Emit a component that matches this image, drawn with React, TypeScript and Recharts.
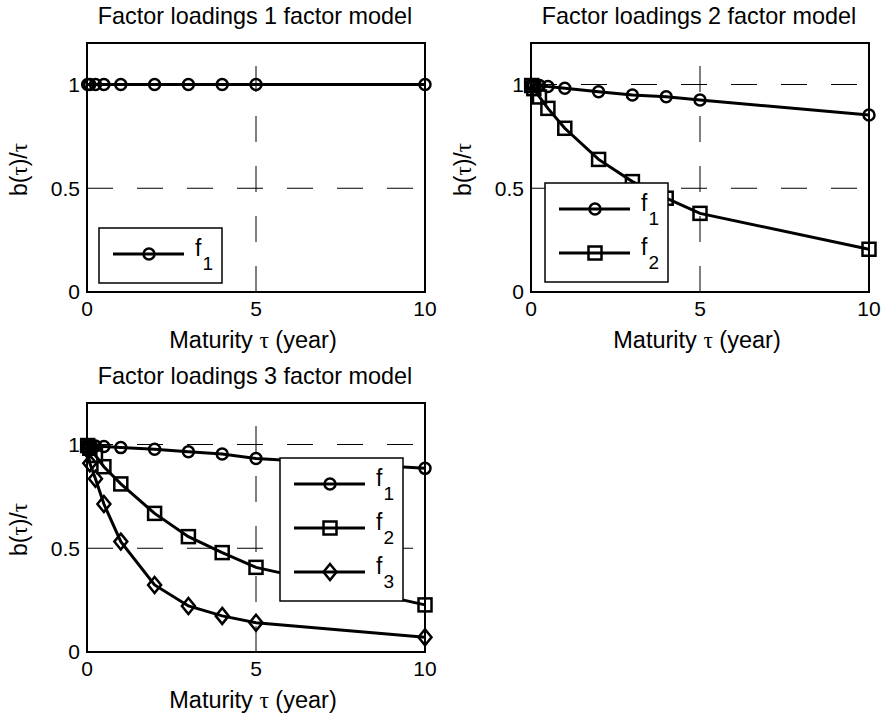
import { LineChart, Line, XAxis, YAxis, ReferenceLine, ReferenceArea } from 'recharts'

// maturities in years (dense near zero)
const maturity = [0.02, 0.083, 0.25, 0.5, 1, 2, 3, 4, 5, 10]

const oneFactorF1 = [1, 1, 1, 1, 1, 1, 1, 1, 1, 1]

const twoFactorF1 = [0.999, 0.998, 0.995, 0.99, 0.982, 0.965, 0.949, 0.941, 0.925, 0.853]
const twoFactorF2 = [0.995, 0.98, 0.94, 0.885, 0.789, 0.639, 0.532, 0.452, 0.379, 0.206]

const threeFactorF1 = [0.999, 0.997, 0.993, 0.99, 0.985, 0.977, 0.965, 0.954, 0.933, 0.885]
const threeFactorF2 = [0.995, 0.982, 0.947, 0.893, 0.81, 0.668, 0.556, 0.479, 0.408, 0.227]
const threeFactorF3 = [0.975, 0.91, 0.835, 0.713, 0.532, 0.323, 0.222, 0.174, 0.141, 0.071]

const xTicks = [0, 5, 10]
const yTicks = [0, 0.5, 1]
const gridY = [0.5, 1]
const gridX = [5]

const FONT = '"Liberation Sans", Arial, Helvetica, sans-serif'
const GREEK = '"Liberation Serif", "DejaVu Serif", serif'

const PW = 443
const PH = 360
// plot box inside each panel
const PL = 87
const PR = 425
const PT = 43
const PB = 292

type Shape = 'circle' | 'square' | 'diamond'
interface Series { key: string; label: string; sub: string; values: number[]; shape: Shape }

function Marker({ shape, cx, cy }: { shape: Shape; cx: number; cy: number }) {
  const common = { fill: 'none', stroke: '#000', strokeWidth: 2.5 }
  if (shape === 'square') return <rect x={cx - 6.5} y={cy - 6.5} width={13} height={13} {...common} />
  if (shape === 'diamond') {
    return <polygon points={`${cx},${cy - 8} ${cx + 6.5},${cy} ${cx},${cy + 8} ${cx - 6.5},${cy}`} {...common} />
  }
  return <circle cx={cx} cy={cy} r={5.5} {...common} />
}

function Panel({ left, top, title, series, legendX, legendY }: {
  left: number; top: number; title: string; series: Series[]; legendX: number; legendY: number
}) {
  const data = maturity.map((t, i) => {
    const row: Record<string, number> = { t }
    series.forEach(s => { row[s.key] = s.values[i] })
    return row
  })
  const tickStyle = { fontSize: 21, fill: '#000', fontFamily: FONT }
  const cx = (PL + PR) / 2
  const legendH = series.length * 44 + 11

  return (
    <div style={{ position: 'absolute', left, top, width: PW, height: PH }}>
      <LineChart width={PW} height={PH} data={data} margin={{ top: PT, right: PW - PR, bottom: PH - PB - 30, left: PL - 40 }}>
        <XAxis type="number" dataKey="t" domain={[0, 10]} ticks={xTicks} interval={0} height={30}
          axisLine={false} tickLine={false} tickSize={0} tickMargin={9} tick={tickStyle} />
        <YAxis type="number" domain={[0, 1.2]} ticks={yTicks} interval={0} width={40}
          axisLine={false} tickLine={false} tickSize={0} tickMargin={7} tick={tickStyle} />
        {gridY.map(v => (
          <ReferenceLine key={'y' + v} y={v} stroke="#000" strokeWidth={1} strokeDasharray="26 24" />
        ))}
        {gridX.map(v => (
          <ReferenceLine key={'x' + v} x={v} stroke="#000" strokeWidth={1} strokeDasharray="26 24" />
        ))}
        <ReferenceArea x1={0} x2={10} y1={0} y2={1.2} fill="none" fillOpacity={0} stroke="#000" strokeWidth={2} />
        {series.map(s => (
          <Line key={s.key} type="linear" dataKey={s.key} stroke="#000" strokeWidth={3}
            dot={(p: any) => <Marker key={s.key + p.index} shape={s.shape} cx={p.cx} cy={p.cy} />}
            activeDot={false} isAnimationActive={false} />
        ))}
      </LineChart>
      <svg width={PW} height={PH} style={{ position: 'absolute', left: 0, top: 0, pointerEvents: 'none' }}
        fontFamily={FONT}>
        <text x={cx - 1} y={23.5} textAnchor="middle" fontSize={23.4}>{title}</text>
        <text x={cx - 3} y={348} textAnchor="middle" fontSize={23.5}>
          Maturity <tspan fontFamily={GREEK}>τ</tspan> (year)
        </text>
        <text transform={`translate(27, ${(PT + PB) / 2 + 2}) rotate(-90)`} textAnchor="middle" fontSize={23}>
          b(<tspan fontFamily={GREEK}>τ</tspan>)/<tspan fontFamily={GREEK}>τ</tspan>
        </text>
        <g transform={`translate(${legendX}, ${legendY})`}>
          <rect x={0} y={0} width={123} height={legendH} fill="#fff" stroke="#000" strokeWidth={1.5} />
          {series.map((s, i) => {
            const y = 26 + 44 * i
            return (
              <g key={s.key}>
                <line x1={14} x2={85} y1={y} y2={y} stroke="#000" strokeWidth={3} />
                <Marker shape={s.shape} cx={50} cy={y} />
                <text x={96} y={y + 2} fontSize={23}>
                  {s.label}<tspan dx={1} dy={14} fontSize={19}>{s.sub}</tspan>
                </text>
              </g>
            )
          })}
        </g>
      </svg>
    </div>
  )
}

const panel1: Series[] = [
  { key: 'f1', label: 'f', sub: '1', values: oneFactorF1, shape: 'circle' },
]
const panel2: Series[] = [
  { key: 'f1', label: 'f', sub: '1', values: twoFactorF1, shape: 'circle' },
  { key: 'f2', label: 'f', sub: '2', values: twoFactorF2, shape: 'square' },
]
const panel3: Series[] = [
  { key: 'f1', label: 'f', sub: '1', values: threeFactorF1, shape: 'circle' },
  { key: 'f2', label: 'f', sub: '2', values: threeFactorF2, shape: 'square' },
  { key: 'f3', label: 'f', sub: '3', values: threeFactorF3, shape: 'diamond' },
]

export default function App() {
  return (
    <div style={{ position: 'absolute', left: 0, top: 0, width: 886, height: 722, background: '#fff', overflow: 'hidden' }}>
      <Panel left={0} top={0} title="Factor loadings 1 factor model" series={panel1} legendX={99} legendY={228} />
      <Panel left={444} top={0} title="Factor loadings 2 factor model" series={panel2} legendX={101} legendY={183} />
      <Panel left={0} top={360} title="Factor loadings 3 factor model" series={panel3} legendX={280} legendY={98} />
    </div>
  )
}
